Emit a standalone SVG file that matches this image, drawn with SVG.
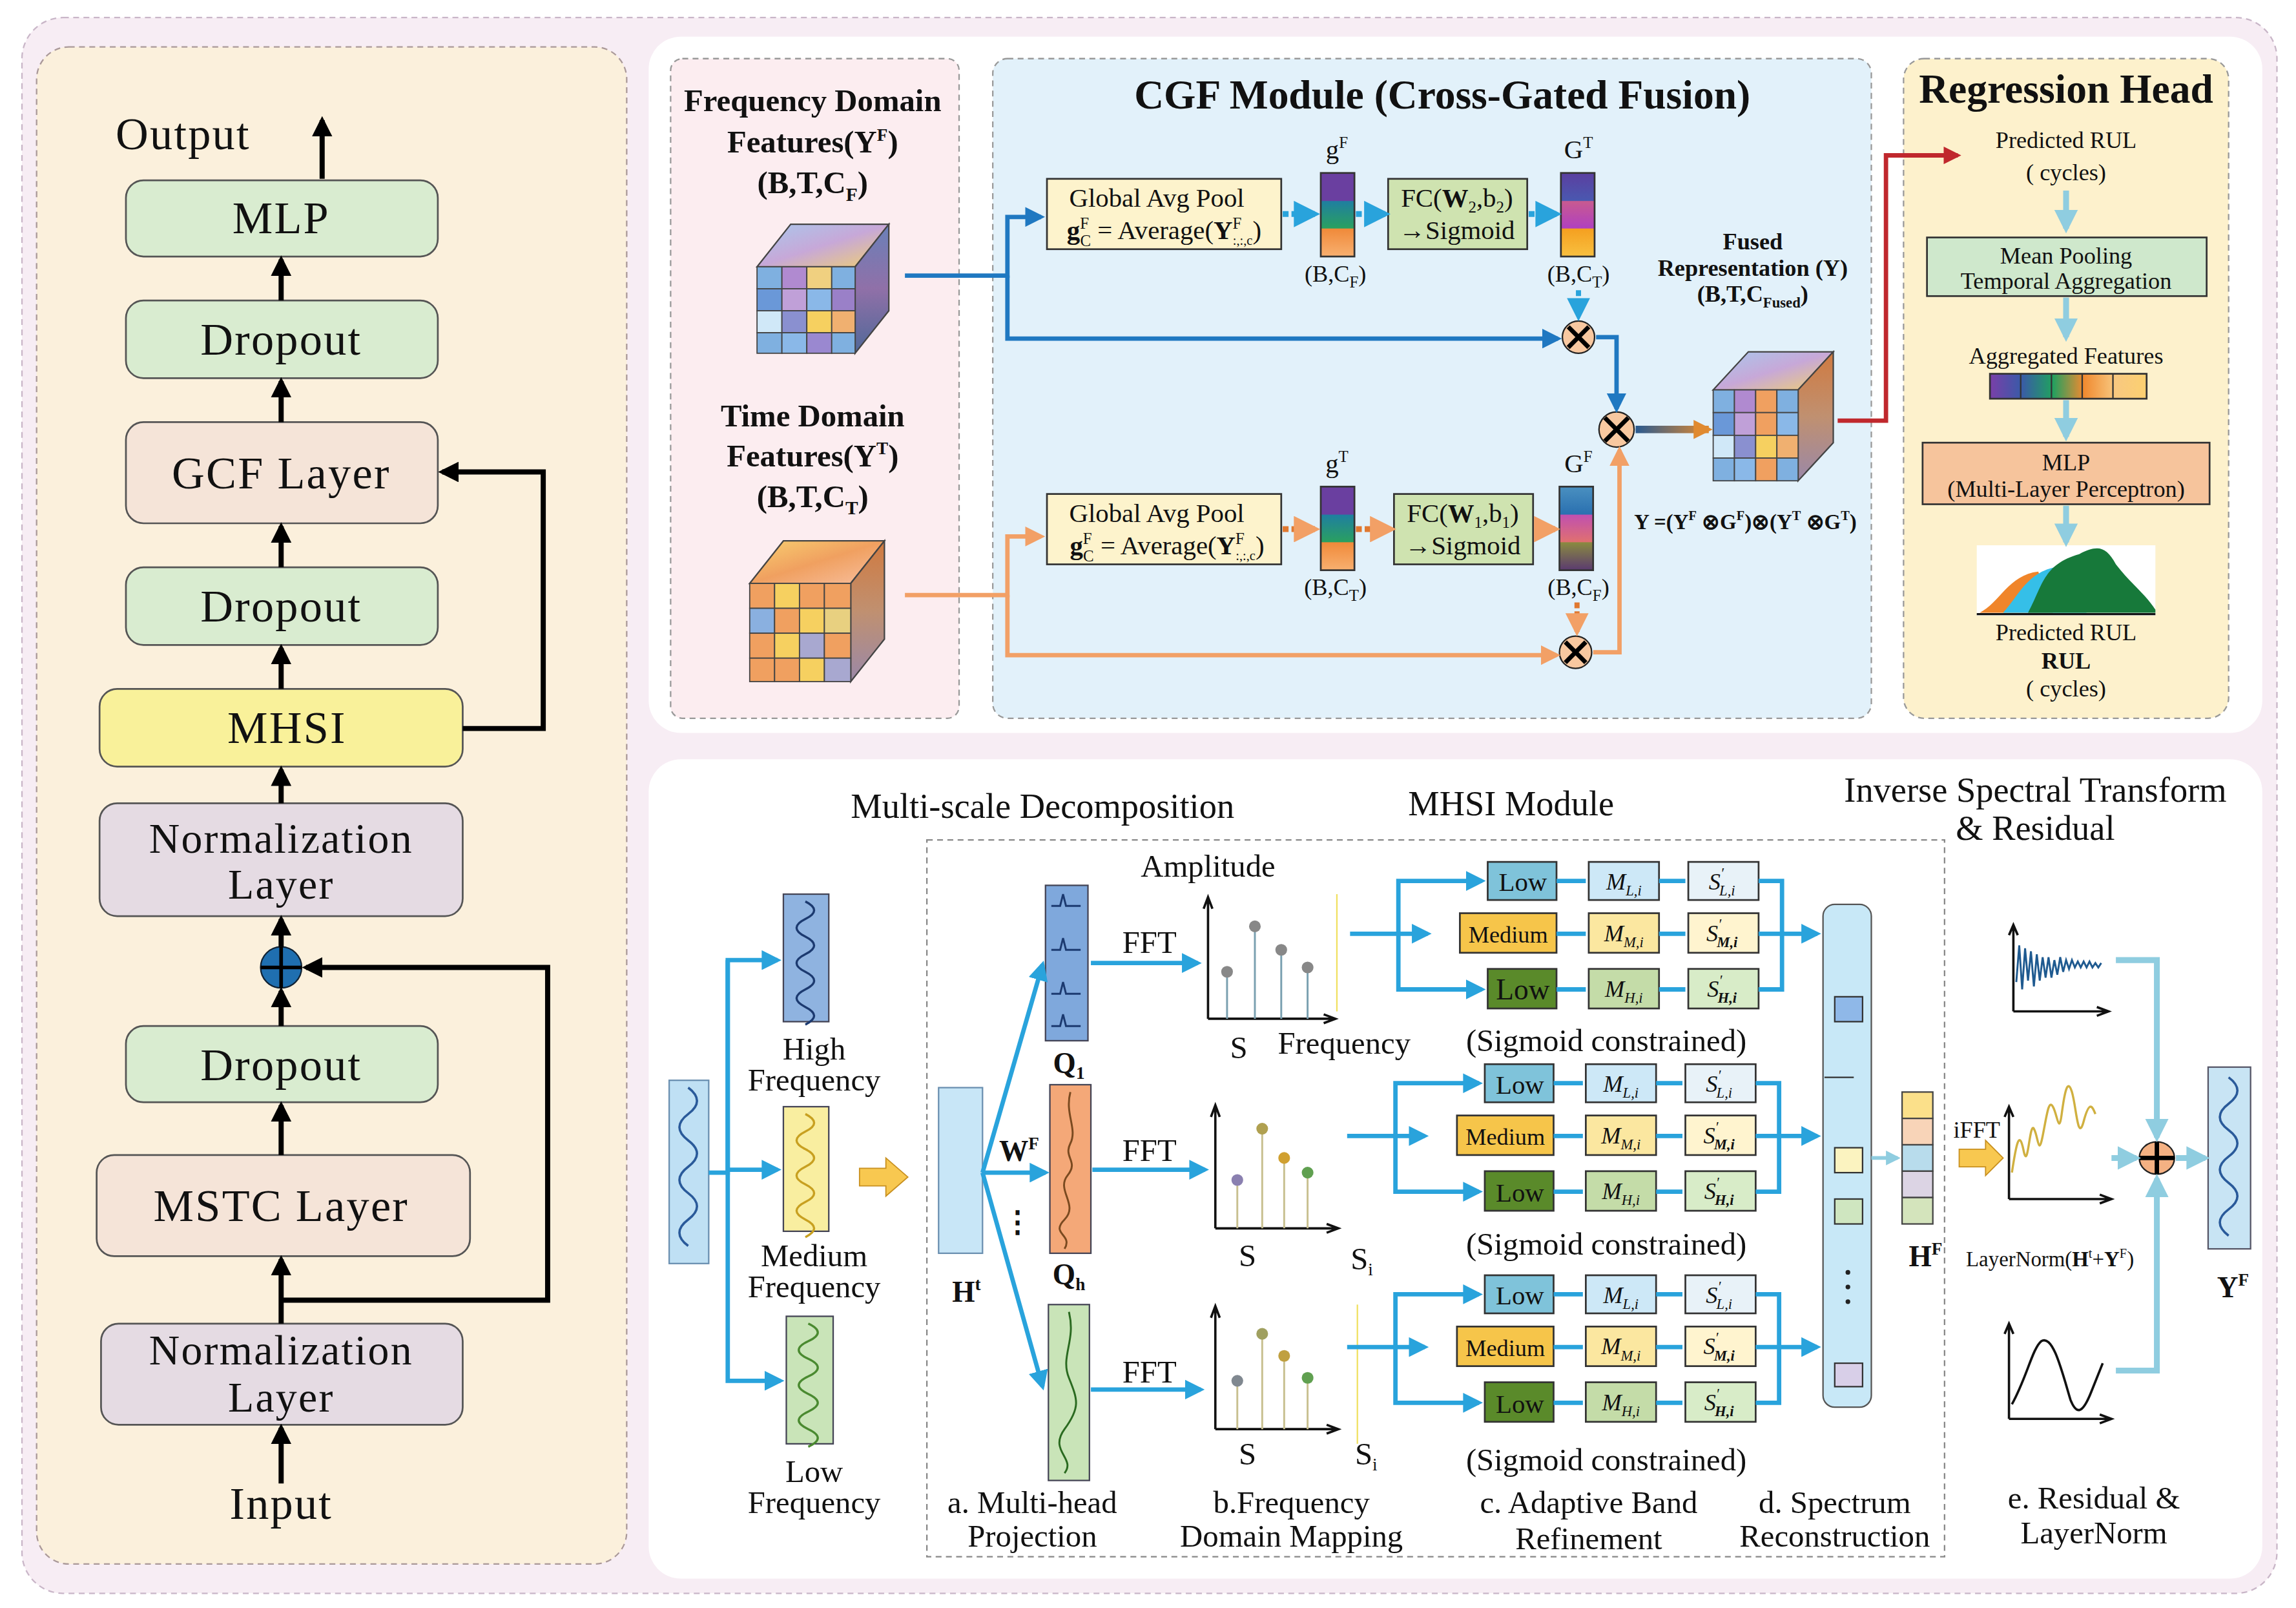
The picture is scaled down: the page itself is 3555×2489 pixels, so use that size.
<svg xmlns="http://www.w3.org/2000/svg" width="3555" height="2489" viewBox="0 0 3555 2489">
<style>
text{font-family:"Liberation Serif","Times New Roman",serif;fill:#111;text-anchor:middle}
.L{font-size:31px;letter-spacing:1px}
.L2{font-size:29px;letter-spacing:1px}
.b{font-weight:bold}
.t16{font-size:16px}.t18{font-size:18px}.t20{font-size:20px}.t21{font-size:21.5px}.t22{font-size:24px}.t14{font-size:14.5px}
.node{stroke:#555;stroke-width:1.2}
.bk{stroke:#000;stroke-width:3.5;fill:none}
.bl{stroke:#29a3dc;stroke-width:3;fill:none}
.blu{stroke:#1f78c1;stroke-width:3;fill:none}
.or{stroke:#f2a066;stroke-width:3;fill:none}
.lb{stroke:#8fcde0;stroke-width:4;fill:none}
.ax{stroke:#111;stroke-width:1.6;fill:none}
.box{stroke:#333;stroke-width:1.2}
.dash{fill:none;stroke:#888;stroke-width:1;stroke-dasharray:4 3}
</style>
<defs>
<marker id="mk" viewBox="0 0 10 10" refX="8" refY="5" markerWidth="4" markerHeight="4" orient="auto"><path d="M0,0L10,5L0,10z" fill="#000"/></marker>
<marker id="mb" viewBox="0 0 10 10" refX="8" refY="5" markerWidth="4.5" markerHeight="4.5" orient="auto"><path d="M0,0L10,5L0,10z" fill="#29a3dc"/></marker>
<marker id="mbd" viewBox="0 0 10 10" refX="8" refY="5" markerWidth="4.5" markerHeight="4.5" orient="auto"><path d="M0,0L10,5L0,10z" fill="#1f78c1"/></marker>
<marker id="mo" viewBox="0 0 10 10" refX="8" refY="5" markerWidth="4.5" markerHeight="4.5" orient="auto"><path d="M0,0L10,5L0,10z" fill="#f2a066"/></marker>
<marker id="mo2" viewBox="0 0 10 10" refX="8" refY="5" markerWidth="2.6" markerHeight="3" orient="auto"><path d="M0,0L10,5L0,10z" fill="#e08a30"/></marker>
<marker id="mr" viewBox="0 0 10 10" refX="8" refY="5" markerWidth="5" markerHeight="4" orient="auto"><path d="M0,0L10,5L0,10z" fill="#c0282d"/></marker>
<marker id="ml" viewBox="0 0 10 10" refX="8" refY="5" markerWidth="4" markerHeight="4" orient="auto"><path d="M0,0L10,5L0,10z" fill="#8fcde0"/></marker>
<linearGradient id="gF" x1="0" y1="0" x2="0" y2="1"><stop offset="0" stop-color="#6a3fa0"/><stop offset="0.33" stop-color="#6a3fa0"/><stop offset="0.34" stop-color="#1f7fa0"/><stop offset="0.66" stop-color="#2aa060"/><stop offset="0.67" stop-color="#f08a3a"/><stop offset="1" stop-color="#f8b070"/></linearGradient>
<linearGradient id="gT" x1="0" y1="0" x2="0" y2="1"><stop offset="0" stop-color="#5b3fa0"/><stop offset="0.33" stop-color="#4a58b0"/><stop offset="0.34" stop-color="#c85a90"/><stop offset="0.66" stop-color="#b040c0"/><stop offset="0.67" stop-color="#f5a020"/><stop offset="1" stop-color="#f8c040"/></linearGradient>
<linearGradient id="gG" x1="0" y1="0" x2="0" y2="1"><stop offset="0" stop-color="#4a90c0"/><stop offset="0.33" stop-color="#2a70b0"/><stop offset="0.34" stop-color="#c050b0"/><stop offset="0.66" stop-color="#e07070"/><stop offset="0.67" stop-color="#8a8a40"/><stop offset="1" stop-color="#5a3a70"/></linearGradient>
<linearGradient id="agg" x1="0" y1="0" x2="1" y2="0"><stop offset="0" stop-color="#7a3fa8"/><stop offset="0.2" stop-color="#3a5aa8"/><stop offset="0.4" stop-color="#20a060"/><stop offset="0.6" stop-color="#f08a30"/><stop offset="0.8" stop-color="#f8c880"/><stop offset="1" stop-color="#fcd070"/></linearGradient>
<linearGradient id="fus" gradientUnits="userSpaceOnUse" x1="1117" y1="0" x2="1167" y2="0"><stop offset="0" stop-color="#2a5a90"/><stop offset="1" stop-color="#e08a30"/></linearGradient>
<linearGradient id="cubeTopB" x1="0" y1="0" x2="1" y2="1"><stop offset="0" stop-color="#a9c8ec"/><stop offset="0.5" stop-color="#c7a8d8"/><stop offset="1" stop-color="#f0d070"/></linearGradient>
<linearGradient id="cubeSideB" x1="0" y1="0" x2="0" y2="1"><stop offset="0" stop-color="#6a80b8"/><stop offset="0.5" stop-color="#9070a8"/><stop offset="1" stop-color="#506898"/></linearGradient>
<linearGradient id="cubeTopO" x1="0" y1="0" x2="1" y2="1"><stop offset="0" stop-color="#f8d070"/><stop offset="0.5" stop-color="#f0a060"/><stop offset="1" stop-color="#f8c0a0"/></linearGradient>
<linearGradient id="cubeSideO" x1="0" y1="0" x2="0" y2="1"><stop offset="0" stop-color="#d07a40"/><stop offset="0.5" stop-color="#c09070"/><stop offset="1" stop-color="#9a88a8"/></linearGradient>
</defs>
<g transform="scale(2.2672,2.2689)">
<rect x="15" y="12" width="1540" height="1075" rx="28" fill="#f7edf4" stroke="#c9b6c8" stroke-dasharray="4 3"/>
<rect x="25" y="32" width="403" height="1035" rx="22" fill="#fbf0dc" stroke="#a99" stroke-dasharray="4 3"/>
<rect x="443" y="25" width="1102" height="475" rx="22" fill="#fff"/>
<rect x="443" y="518" width="1102" height="559" rx="22" fill="#fff"/>
<rect x="458" y="40" width="197" height="450" rx="8" fill="#fcedf0" stroke="#999" stroke-dasharray="4 3"/>
<rect x="678" y="40" width="600" height="450" rx="10" fill="#e2f1fa" stroke="#999" stroke-dasharray="4 3"/>
<rect x="1300" y="40" width="222" height="450" rx="14" fill="#fdf1cc" stroke="#999" stroke-dasharray="4 3"/>
<rect x="633" y="573" width="695" height="489" class="dash"/>

<g id="output-label"><text x="125" y="102" class="L">Output</text></g>
<g id="mlp-left"><rect x="86" y="123" width="213" height="52" rx="12" fill="#d9ecd0" class="node"/><text x="192" y="159" class="L">MLP</text></g>
<g id="dropout-3"><rect x="86" y="205" width="213" height="53" rx="12" fill="#d9ecd0" class="node"/><text x="192" y="242" class="L">Dropout</text></g>
<g id="gcf-layer"><rect x="86" y="288" width="213" height="69" rx="12" fill="#f5e4d8" class="node"/><text x="192" y="333" class="L">GCF Layer</text></g>
<g id="dropout-2"><rect x="86" y="387" width="213" height="53" rx="12" fill="#d9ecd0" class="node"/><text x="192" y="424" class="L">Dropout</text></g>
<g id="mhsi-left"><rect x="68" y="470" width="248" height="53" rx="12" fill="#f9f19a" class="node"/><text x="196" y="507" class="L">MHSI</text></g>
<g id="norm-2"><rect x="68" y="548" width="248" height="77" rx="12" fill="#e5dbe3" class="node"/><text x="192" y="582" class="L2">Normalization</text><text x="192" y="613" class="L2">Layer</text></g>
<g id="add-left"><circle cx="192" cy="660" r="14" fill="#1f6fb0" stroke="#123"/><path d="M178,660H206M192,646V674" stroke="#000" stroke-width="2.5"/></g>
<g id="dropout-1"><rect x="86" y="700" width="213" height="52" rx="12" fill="#d9ecd0" class="node"/><text x="192" y="737" class="L">Dropout</text></g>
<g id="mstc-layer"><rect x="66" y="788" width="255" height="69" rx="12" fill="#f5e4d8" class="node"/><text x="192" y="833" class="L">MSTC Layer</text></g>
<g id="norm-1"><rect x="69" y="903" width="247" height="69" rx="12" fill="#e5dbe3" class="node"/><text x="192" y="931" class="L2">Normalization</text><text x="192" y="963" class="L2">Layer</text></g>
<g id="input-label"><text x="192" y="1036" class="L">Input</text></g>
<g id="left-connectors">
<path class="bk" d="M220,122V82" marker-end="url(#mk)"/>
<path class="bk" d="M192,205V177" marker-end="url(#mk)"/>
<path class="bk" d="M192,288V260" marker-end="url(#mk)"/>
<path class="bk" d="M192,387V359" marker-end="url(#mk)"/>
<path class="bk" d="M192,470V442" marker-end="url(#mk)"/>
<path class="bk" d="M192,548V525" marker-end="url(#mk)"/>
<path class="bk" d="M192,646V627" marker-end="url(#mk)"/>
<path class="bk" d="M192,700V676" marker-end="url(#mk)"/>
<path class="bk" d="M192,788V754" marker-end="url(#mk)"/>
<path class="bk" d="M192,903V859" marker-end="url(#mk)"/>
<path class="bk" d="M192,1012V974" marker-end="url(#mk)"/>
<path class="bk" d="M316,497H371V322H302" marker-end="url(#mk)"/>
<path class="bk" d="M192,887H374V660H209" marker-end="url(#mk)"/>
</g>

<g id="freq-features">
<text x="555" y="76" class="t21 b">Frequency Domain</text>
<text x="555" y="104" class="t21 b">Features(Y<tspan dy="-8" font-size="12">F</tspan><tspan dy="8">)</tspan></text>
<text x="555" y="132" class="t21 b">(B,T,C<tspan dy="5" font-size="13">F</tspan><tspan dy="-5">)</tspan></text>
<polygon points="517,182 540,153 607,153 584,182" fill="url(#cubeTopB)" stroke="#444"/>
<polygon points="584,182 607,153 607,212 584,241" fill="url(#cubeSideB)" stroke="#444"/>
<g stroke="#444" stroke-width="0.8">
<rect x="517" y="182" width="17" height="15" fill="#7fb0e0"/><rect x="534" y="182" width="17" height="15" fill="#b08ad0"/><rect x="551" y="182" width="17" height="15" fill="#f0d080"/><rect x="568" y="182" width="16" height="15" fill="#7fb0e0"/>
<rect x="517" y="197" width="17" height="15" fill="#6a98d8"/><rect x="534" y="197" width="17" height="15" fill="#c0a0d8"/><rect x="551" y="197" width="17" height="15" fill="#8ab8e8"/><rect x="568" y="197" width="16" height="15" fill="#9a80c8"/>
<rect x="517" y="212" width="17" height="15" fill="#d0e8f8"/><rect x="534" y="212" width="17" height="15" fill="#8a90d0"/><rect x="551" y="212" width="17" height="15" fill="#f6d060"/><rect x="568" y="212" width="16" height="15" fill="#f0b070"/>
<rect x="517" y="227" width="17" height="14" fill="#7fb0e0"/><rect x="534" y="227" width="17" height="14" fill="#8ab8e8"/><rect x="551" y="227" width="17" height="14" fill="#9a88d0"/><rect x="568" y="227" width="16" height="14" fill="#7fb0e0"/>
</g></g>
<g id="time-features">
<text x="555" y="291" class="t21 b">Time Domain</text>
<text x="555" y="318" class="t21 b">Features(Y<tspan dy="-8" font-size="12">T</tspan><tspan dy="8">)</tspan></text>
<text x="555" y="346" class="t21 b">(B,T,C<tspan dy="5" font-size="13">T</tspan><tspan dy="-5">)</tspan></text>
<polygon points="512,398 535,369 604,369 581,398" fill="url(#cubeTopO)" stroke="#444"/>
<polygon points="581,398 604,369 604,436 581,465" fill="url(#cubeSideO)" stroke="#444"/>
<g stroke="#444" stroke-width="0.8">
<rect x="512" y="398" width="17" height="17" fill="#f0a060"/><rect x="529" y="398" width="17" height="17" fill="#f6d060"/><rect x="546" y="398" width="17" height="17" fill="#f0a060"/><rect x="563" y="398" width="18" height="17" fill="#f0a060"/>
<rect x="512" y="415" width="17" height="17" fill="#8ab0e0"/><rect x="529" y="415" width="17" height="17" fill="#f0a060"/><rect x="546" y="415" width="17" height="17" fill="#f6d060"/><rect x="563" y="415" width="18" height="17" fill="#e8d080"/>
<rect x="512" y="432" width="17" height="17" fill="#f0a060"/><rect x="529" y="432" width="17" height="17" fill="#f6d060"/><rect x="546" y="432" width="17" height="17" fill="#a8a8d0"/><rect x="563" y="432" width="18" height="17" fill="#f0a060"/>
<rect x="512" y="449" width="17" height="16" fill="#f0a060"/><rect x="529" y="449" width="17" height="16" fill="#f0a060"/><rect x="546" y="449" width="17" height="16" fill="#f6d060"/><rect x="563" y="449" width="18" height="16" fill="#a8a8d0"/>
</g></g>

<g id="cgf-title"><text x="985" y="74" font-size="28" class="b">CGF Module (Cross-Gated Fusion)</text></g>
<g id="gap-top"><rect x="715" y="122" width="160" height="48" fill="#fdf3cc" class="box"/>
<text x="790" y="141" class="t18">Global Avg Pool</text>
<text x="795" y="163" class="t18"><tspan class="b">g</tspan><tspan dy="-7" font-size="11">F</tspan><tspan dx="-6" dy="12" font-size="11">C</tspan><tspan dy="-5"> = Average(</tspan><tspan class="b">Y</tspan><tspan dy="-7" font-size="11">F</tspan><tspan dx="-6" dy="11" font-size="9">:,:,c</tspan><tspan dy="-4">)</tspan></text></g>
<g id="gF-vec"><rect x="902" y="118" width="23" height="57" fill="url(#gF)" class="box"/><text x="913" y="108" class="t18">g<tspan dy="-7" font-size="11">F</tspan></text><text x="912" y="192" class="t16">(B,C<tspan dy="4" font-size="11">F</tspan><tspan dy="-4">)</tspan></text></g>
<g id="fc-top"><rect x="948" y="122" width="95" height="48" fill="#cfe3b0" class="box"/><text x="995" y="141" class="t18">FC(<tspan class="b">W</tspan><tspan dy="4" font-size="11">2</tspan><tspan dy="-4">,b</tspan><tspan dy="4" font-size="11">2</tspan><tspan dy="-4">)</tspan></text><text x="995" y="163" class="t18">→Sigmoid</text></g>
<g id="GT-vec"><rect x="1066" y="118" width="23" height="57" fill="url(#gT)" class="box"/><text x="1078" y="108" class="t18">G<tspan dy="-7" font-size="11">T</tspan></text><text x="1078" y="192" class="t16">(B,C<tspan dy="4" font-size="11">T</tspan><tspan dy="-4">)</tspan></text></g>
<g id="gap-bot"><rect x="715" y="337" width="160" height="48" fill="#fdf3cc" class="box"/>
<text x="790" y="356" class="t18">Global Avg Pool</text>
<text x="797" y="378" class="t18"><tspan class="b">g</tspan><tspan dy="-7" font-size="11">F</tspan><tspan dx="-6" dy="12" font-size="11">C</tspan><tspan dy="-5"> = Average(</tspan><tspan class="b">Y</tspan><tspan dy="-7" font-size="11">F</tspan><tspan dx="-6" dy="11" font-size="9">:,:,c</tspan><tspan dy="-4">)</tspan></text></g>
<g id="gT-vec"><rect x="902" y="332" width="23" height="57" fill="url(#gF)" class="box"/><text x="913" y="322" class="t18">g<tspan dy="-7" font-size="11">T</tspan></text><text x="912" y="406" class="t16">(B,C<tspan dy="4" font-size="11">T</tspan><tspan dy="-4">)</tspan></text></g>
<g id="fc-bot"><rect x="952" y="337" width="95" height="48" fill="#cfe3b0" class="box"/><text x="999" y="356" class="t18">FC(<tspan class="b">W</tspan><tspan dy="4" font-size="11">1</tspan><tspan dy="-4">,b</tspan><tspan dy="4" font-size="11">1</tspan><tspan dy="-4">)</tspan></text><text x="999" y="378" class="t18">→Sigmoid</text></g>
<g id="GF-vec"><rect x="1065" y="332" width="23" height="57" fill="url(#gG)" class="box"/><text x="1078" y="322" class="t18">G<tspan dy="-7" font-size="11">F</tspan></text><text x="1078" y="406" class="t16">(B,C<tspan dy="4" font-size="11">F</tspan><tspan dy="-4">)</tspan></text></g>
<g id="mul-top"><circle cx="1078" cy="230" r="11" fill="#f8c8a0" stroke="#222"/><path d="M1071,223L1085,237M1085,223L1071,237" stroke="#000" stroke-width="3"/></g>
<g id="mul-bot"><circle cx="1076" cy="445" r="11" fill="#f8c8a0" stroke="#222"/><path d="M1069,438L1083,452M1083,438L1069,452" stroke="#000" stroke-width="3"/></g>
<g id="mul-fuse"><circle cx="1104" cy="293" r="12" fill="#f8c8a0" stroke="#222"/><path d="M1096,285L1112,301M1112,285L1096,301" stroke="#000" stroke-width="3"/></g>
<g id="fused">
<text x="1197" y="170" class="t16 b">Fused</text><text x="1197" y="188" class="t16 b">Representation (Y)</text><text x="1197" y="206" class="t16 b">(B,T,C<tspan dy="4" font-size="10">Fused</tspan><tspan dy="-4">)</tspan></text>
<polygon points="1170,266 1194,240 1252,240 1228,266" fill="url(#cubeTopB)" stroke="#444"/>
<polygon points="1228,266 1252,240 1252,302 1228,328" fill="url(#cubeSideO)" stroke="#444"/>
<g stroke="#444" stroke-width="0.8">
<rect x="1170" y="266" width="14.5" height="15.5" fill="#7fb0e0"/><rect x="1184.5" y="266" width="14.5" height="15.5" fill="#b08ad0"/><rect x="1199" y="266" width="14.5" height="15.5" fill="#f0a060"/><rect x="1213.5" y="266" width="14.5" height="15.5" fill="#7fb0e0"/>
<rect x="1170" y="281.5" width="14.5" height="15.5" fill="#6a98d8"/><rect x="1184.5" y="281.5" width="14.5" height="15.5" fill="#c0a0d8"/><rect x="1199" y="281.5" width="14.5" height="15.5" fill="#f0a060"/><rect x="1213.5" y="281.5" width="14.5" height="15.5" fill="#8ab8e8"/>
<rect x="1170" y="297" width="14.5" height="15.5" fill="#d0e8f8"/><rect x="1184.5" y="297" width="14.5" height="15.5" fill="#8a90d0"/><rect x="1199" y="297" width="14.5" height="15.5" fill="#f6d060"/><rect x="1213.5" y="297" width="14.5" height="15.5" fill="#f0b070"/>
<rect x="1170" y="312.5" width="14.5" height="15.5" fill="#7fb0e0"/><rect x="1184.5" y="312.5" width="14.5" height="15.5" fill="#8ab8e8"/><rect x="1199" y="312.5" width="14.5" height="15.5" fill="#f0a060"/><rect x="1213.5" y="312.5" width="14.5" height="15.5" fill="#7fb0e0"/>
</g>
<text x="1192" y="361" font-size="14.5" class="b">Y =(Y<tspan dy="-6" font-size="9">F</tspan><tspan dy="6"> ⊗G</tspan><tspan dy="-6" font-size="9">F</tspan><tspan dy="6">)⊗(Y</tspan><tspan dy="-6" font-size="9">T</tspan><tspan dy="6"> ⊗G</tspan><tspan dy="-6" font-size="9">T</tspan><tspan dy="6">)</tspan></text>
</g>

<g id="reg-title"><text x="1411" y="70" font-size="28" class="b">Regression Head</text></g>
<g id="pred-top"><text x="1411" y="101" class="t16">Predicted RUL</text><text x="1411" y="123" class="t16">( cycles)</text></g>
<g id="mean-pool"><rect x="1316" y="162" width="191" height="40" fill="#cfe8cc" class="box"/><text x="1411" y="180" class="t16">Mean Pooling</text><text x="1411" y="197" class="t16">Temporal Aggregation</text></g>
<g id="agg-feat"><text x="1411" y="248" class="t16">Aggregated Features</text><rect x="1359" y="255" width="107" height="17" fill="url(#agg)" class="box"/><path d="M1380,255V272M1401,255V272M1422,255V272M1443,255V272" stroke="#333"/></g>
<g id="mlp-head"><rect x="1313" y="302" width="196" height="42" fill="#f6c49c" class="box"/><text x="1411" y="321" class="t16">MLP</text><text x="1411" y="339" class="t16">(Multi-Layer Perceptron)</text></g>
<g id="rul-chart"><rect x="1350" y="372" width="122" height="48" fill="#fff"/>
<path d="M1352,418C1365,412 1372,392 1392,390L1402,418Z" fill="#f0852a"/>
<path d="M1368,418C1380,405 1385,388 1410,386C1418,386 1420,410 1425,418Z" fill="#35bfe8"/>
<path d="M1385,418C1395,400 1395,385 1420,378C1432,372 1438,372 1445,385C1455,398 1465,405 1472,416L1472,418Z" fill="#17793a"/>
<path d="M1350,419H1472" stroke="#111" stroke-width="1.5"/>
<text x="1411" y="437" class="t16">Predicted RUL</text><text x="1411" y="456" class="t16 b">RUL</text><text x="1411" y="475" class="t16">( cycles)</text></g>

<g id="top-connectors">
<path class="blu" d="M618,188H688V148H711" marker-end="url(#mbd)"/>
<path class="blu" d="M688,188V231H1064" marker-end="url(#mbd)"/>
<path class="blu" d="M1090,230H1104V279" marker-end="url(#mbd)"/>
<path class="or" d="M618,406H688V366H711" marker-end="url(#mo)"/>
<path class="or" d="M688,406V447H1063" marker-end="url(#mo)"/>
<path class="or" d="M1088,445H1106V307" marker-end="url(#mo)"/>
<path d="M876,146H898" stroke="#29a3dc" stroke-width="4" stroke-dasharray="4 2" marker-end="url(#mb)"/>
<path d="M926,146H946" stroke="#29a3dc" stroke-width="4" stroke-dasharray="4 2" marker-end="url(#mb)"/>
<path d="M1044,146H1063" stroke="#29a3dc" stroke-width="4" stroke-dasharray="4 2" marker-end="url(#mb)"/>
<path d="M876,361H898" stroke="#e07830" stroke-width="4" stroke-dasharray="4 2" marker-end="url(#mo)"/>
<path d="M926,361H950" stroke="#e07830" stroke-width="4" stroke-dasharray="4 2" marker-end="url(#mo)"/>
<path d="M1048,361H1062" stroke="#e07830" stroke-width="4" stroke-dasharray="4 2" marker-end="url(#mo)"/>
<path d="M1078,198V216" stroke="#29a3dc" stroke-width="3.5" stroke-dasharray="4 2" marker-end="url(#mb)"/>
<path d="M1077,411V431" stroke="#e07830" stroke-width="3.5" stroke-dasharray="4 2" marker-end="url(#mo)"/>
<path d="M1117,293H1167" stroke="url(#fus)" stroke-width="5" marker-end="url(#mo2)"/>
<path d="M1255,287H1288V106H1337" stroke="#c0282d" stroke-width="3" fill="none" marker-end="url(#mr)"/>
<path class="lb" d="M1411,130V156" marker-end="url(#ml)"/>
<path class="lb" d="M1411,203V230" marker-end="url(#ml)"/>
<path class="lb" d="M1411,273V298" marker-end="url(#ml)"/>
<path class="lb" d="M1411,345V370" marker-end="url(#ml)"/>
</g>

<g id="bottom-titles">
<text x="712" y="558" class="t22">Multi-scale Decomposition</text>
<text x="1032" y="556" class="t22">MHSI Module</text>
<text x="1390" y="547" class="t22">Inverse Spectral Transform</text>
<text x="1390" y="573" class="t22">&amp; Residual</text>
</g>
<g id="input-signal"><rect x="457" y="737" width="27" height="125" fill="#bfe0f4" stroke="#6a8fb0"/><path d="M470,742q12,9 0,18t0,18t0,18t0,18t0,18t0,18" stroke="#2a5a9a" stroke-width="1.6" fill="none"/></g>
<g id="high-freq"><rect x="535" y="610" width="31" height="87" fill="#8fb3e0" stroke="#445"/><path d="M550,615q12,6 0,12t0,12t0,12t0,12t0,12t0,12t0,12" stroke="#1c3a70" stroke-width="1.5" fill="none"/><text x="556" y="723" class="t21">High</text><text x="556" y="744" class="t21">Frequency</text></g>
<g id="med-freq"><rect x="535" y="755" width="31" height="85" fill="#f9eea0" stroke="#445"/><path d="M550,760q12,6 0,12t0,12t0,12t0,12t0,12t0,12t0,12" stroke="#c8a020" stroke-width="1.5" fill="none"/><text x="556" y="864" class="t21">Medium</text><text x="556" y="885" class="t21">Frequency</text></g>
<g id="low-freq"><rect x="537" y="898" width="32" height="87" fill="#c9e4b8" stroke="#445"/><path d="M552,903q13,6 0,12t0,12t0,12t0,12t0,12t0,12t0,12" stroke="#4a8a30" stroke-width="1.5" fill="none"/><text x="556" y="1011" class="t21">Low</text><text x="556" y="1032" class="t21">Frequency</text></g>
<g id="yellow-arrow1"><path d="M587,797H605V790L620,803L605,816V809H587Z" fill="#f8c850" stroke="#c89020" stroke-width="0.8"/></g>
<g id="Ht"><rect x="641" y="742" width="30" height="113" fill="#c8e6f7" stroke="#6a8fb0"/><text x="660" y="888" class="t20 b">H<tspan dy="-8" font-size="12">t</tspan></text></g>
<g id="Q1"><rect x="714" y="604" width="29" height="106" fill="#7fa8dc" stroke="#445"/><path d="M718,618h6l2,-8l2,8h10M718,648h6l2,-8l2,8h10M718,678h6l2,-8l2,8h10M718,700h6l2,-8l2,8h10" stroke="#1c3a70" stroke-width="1.3" fill="none"/><text x="730" y="732" class="t20 b">Q<tspan dy="4" font-size="12">1</tspan></text></g>
<g id="Qm"><rect x="717" y="740" width="28" height="115" fill="#f4a878" stroke="#445"/><path d="M731,745c-4,15 5,25 0,35s6,12 -2,22s8,20 -2,30s6,10 0,20" stroke="#7a4a20" stroke-width="1.3" fill="none"/><text x="730" y="876" class="t20 b">Q<tspan dy="4" font-size="12">h</tspan></text></g>
<g id="Qh"><rect x="716" y="890" width="28" height="120" fill="#c9e4b8" stroke="#445"/><path d="M730,895c5,20 -6,30 0,45s8,20 -3,35s8,20 0,30" stroke="#2a6a20" stroke-width="1.3" fill="none"/></g>
<g id="WF-label"><text x="696" y="792" class="t20 b">W<tspan dy="-8" font-size="12">F</tspan></text><text x="695" y="840" class="t20 b">⋮</text></g>
<g id="charts">
<text x="825" y="598" class="t21">Amplitude</text>
<path class="ax" d="M825,695V614M822,620L825,612L828,620M825,695H910M904,692L912,695L904,698"/>
<path d="M838,695V663M857,695V632M875,695V648M893,695V660" stroke="#7aa0b0" stroke-width="1.3"/>
<circle cx="838" cy="663" r="4" fill="#888"/><circle cx="857" cy="632" r="4" fill="#888"/><circle cx="875" cy="648" r="4" fill="#888"/><circle cx="893" cy="660" r="4" fill="#888"/>
<path d="M913,610V690" stroke="#f0e060" stroke-width="1"/>
<text x="846" y="722" class="t21">S</text><text x="918" y="719" class="t21">Frequency</text>
<path class="ax" d="M830,838V756M827,762L830,754L833,762M830,838H912M906,835L914,838L906,841"/>
<path d="M845,838V805M862,838V770M877,838V790M893,838V800" stroke="#c8c090" stroke-width="1.3"/>
<circle cx="845" cy="805" r="4" fill="#8a80b0"/><circle cx="862" cy="770" r="4" fill="#b0a050"/><circle cx="877" cy="790" r="4" fill="#d0a030"/><circle cx="893" cy="800" r="4" fill="#60a050"/>
<text x="852" y="864" class="t21">S</text><text x="930" y="866" class="t21">S<tspan dy="4" font-size="12">i</tspan></text>
<path class="ax" d="M830,975V893M827,899L830,891L833,899M830,975H912M906,972L914,975L906,978"/>
<path d="M845,975V942M862,975V910M877,975V925M893,975V940" stroke="#c8c090" stroke-width="1.3"/>
<circle cx="845" cy="942" r="4" fill="#808890"/><circle cx="862" cy="910" r="4" fill="#a0a060"/><circle cx="877" cy="925" r="4" fill="#c0a040"/><circle cx="893" cy="940" r="4" fill="#60a050"/>
<path d="M927,890V985" stroke="#f0e060" stroke-width="1"/>
<text x="852" y="999" class="t21">S</text><text x="933" y="999" class="t21">S<tspan dy="4" font-size="12">i</tspan></text>
</g>
<g id="band-1">
<rect x="1016" y="588" width="47" height="26" fill="#7fc3da" class="box"/><text x="1040" y="608" class="t18">Low</text>
<rect x="997" y="623" width="66" height="27" fill="#f6c54a" class="box"/><text x="1030" y="643" class="t16">Medium</text>
<rect x="1016" y="661" width="47" height="27" fill="#5a8a2a" class="box"/><text x="1040" y="682" class="t20">Low</text>
<rect x="1085" y="588" width="48" height="26" fill="#cde8f7" class="box"/><text x="1109" y="607" class="t16" font-style="italic">M<tspan dy="4" font-size="10">L,i</tspan></text>
<rect x="1085" y="623" width="48" height="27" fill="#fbe7a0" class="box"/><text x="1109" y="642" class="t16" font-style="italic">M<tspan dy="4" font-size="10">M,i</tspan></text>
<rect x="1085" y="661" width="48" height="27" fill="#c4dca8" class="box"/><text x="1109" y="680" class="t16" font-style="italic">M<tspan dy="4" font-size="10">H,i</tspan></text>
<rect x="1153" y="588" width="48" height="26" fill="#e8f2f8" class="box"/><text x="1176" y="607" class="t16" font-style="italic">S<tspan dy="-8" font-size="10">′</tspan><tspan dx="-3" dy="12" font-size="10">L,i</tspan></text>
<rect x="1153" y="623" width="48" height="27" fill="#fff4cf" class="box"/><text x="1176" y="642" class="t16" font-style="italic">S<tspan dy="-8" font-size="10">′</tspan><tspan dx="-3" dy="12" font-size="10" font-weight="bold">M,i</tspan></text>
<rect x="1153" y="661" width="48" height="27" fill="#d8ecc8" class="box"/><text x="1176" y="680" class="t16" font-style="italic">S<tspan dy="-8" font-size="10">′</tspan><tspan dx="-3" dy="12" font-size="10" font-weight="bold">H,i</tspan></text>
<text x="1097" y="717" class="t21">(Sigmoid constrained)</text>
</g>
<g id="band-2" transform="translate(-2,138)">
<rect x="1016" y="588" width="47" height="26" fill="#7fc3da" class="box"/><text x="1040" y="608" class="t18">Low</text>
<rect x="997" y="623" width="66" height="27" fill="#f6c54a" class="box"/><text x="1030" y="643" class="t16">Medium</text>
<rect x="1016" y="661" width="47" height="27" fill="#5a8a2a" class="box"/><text x="1040" y="682" class="t18">Low</text>
<rect x="1085" y="588" width="48" height="26" fill="#cde8f7" class="box"/><text x="1109" y="607" class="t16" font-style="italic">M<tspan dy="4" font-size="10">L,i</tspan></text>
<rect x="1085" y="623" width="48" height="27" fill="#fbe7a0" class="box"/><text x="1109" y="642" class="t16" font-style="italic">M<tspan dy="4" font-size="10">M,i</tspan></text>
<rect x="1085" y="661" width="48" height="27" fill="#c4dca8" class="box"/><text x="1109" y="680" class="t16" font-style="italic">M<tspan dy="4" font-size="10">H,i</tspan></text>
<rect x="1153" y="588" width="48" height="26" fill="#e8f2f8" class="box"/><text x="1176" y="607" class="t16" font-style="italic">S<tspan dy="-8" font-size="10">′</tspan><tspan dx="-3" dy="12" font-size="10">L,i</tspan></text>
<rect x="1153" y="623" width="48" height="27" fill="#fff4cf" class="box"/><text x="1176" y="642" class="t16" font-style="italic">S<tspan dy="-8" font-size="10">′</tspan><tspan dx="-3" dy="12" font-size="10" font-weight="bold">M,i</tspan></text>
<rect x="1153" y="661" width="48" height="27" fill="#d8ecc8" class="box"/><text x="1176" y="680" class="t16" font-style="italic">S<tspan dy="-8" font-size="10">′</tspan><tspan dx="-3" dy="12" font-size="10" font-weight="bold">H,i</tspan></text>
<text x="1099" y="718" class="t21">(Sigmoid constrained)</text>
</g>
<g id="band-3" transform="translate(-2,282)">
<rect x="1016" y="588" width="47" height="26" fill="#7fc3da" class="box"/><text x="1040" y="608" class="t18">Low</text>
<rect x="997" y="623" width="66" height="27" fill="#f6c54a" class="box"/><text x="1030" y="643" class="t16">Medium</text>
<rect x="1016" y="661" width="47" height="27" fill="#5a8a2a" class="box"/><text x="1040" y="682" class="t18">Low</text>
<rect x="1085" y="588" width="48" height="26" fill="#cde8f7" class="box"/><text x="1109" y="607" class="t16" font-style="italic">M<tspan dy="4" font-size="10">L,i</tspan></text>
<rect x="1085" y="623" width="48" height="27" fill="#fbe7a0" class="box"/><text x="1109" y="642" class="t16" font-style="italic">M<tspan dy="4" font-size="10">M,i</tspan></text>
<rect x="1085" y="661" width="48" height="27" fill="#c4dca8" class="box"/><text x="1109" y="680" class="t16" font-style="italic">M<tspan dy="4" font-size="10">H,i</tspan></text>
<rect x="1153" y="588" width="48" height="26" fill="#e8f2f8" class="box"/><text x="1176" y="607" class="t16" font-style="italic">S<tspan dy="-8" font-size="10">′</tspan><tspan dx="-3" dy="12" font-size="10">L,i</tspan></text>
<rect x="1153" y="623" width="48" height="27" fill="#fff4cf" class="box"/><text x="1176" y="642" class="t16" font-style="italic">S<tspan dy="-8" font-size="10">′</tspan><tspan dx="-3" dy="12" font-size="10" font-weight="bold">M,i</tspan></text>
<rect x="1153" y="661" width="48" height="27" fill="#d8ecc8" class="box"/><text x="1176" y="680" class="t16" font-style="italic">S<tspan dy="-8" font-size="10">′</tspan><tspan dx="-3" dy="12" font-size="10" font-weight="bold">H,i</tspan></text>
<text x="1099" y="721" class="t21">(Sigmoid constrained)</text>
</g>
<g id="spectrum-bar"><rect x="1245" y="617" width="33" height="343" rx="8" fill="#c8e8f7" stroke="#555"/>
<rect x="1253" y="680" width="19" height="17" fill="#8fb8e8" stroke="#333"/><path d="M1246,735H1266" stroke="#333"/>
<rect x="1253" y="783" width="19" height="17" fill="#fbf3c0" stroke="#333"/><rect x="1253" y="818" width="19" height="17" fill="#cfe6c0" stroke="#333"/>
<circle cx="1262" cy="868" r="1.6" fill="#222"/><circle cx="1262" cy="878" r="1.6" fill="#222"/><circle cx="1262" cy="888" r="1.6" fill="#222"/>
<rect x="1253" y="930" width="19" height="16" fill="#d8cfe8" stroke="#333"/></g>
<g id="HF"><rect x="1299" y="745" width="21" height="18" fill="#fbe08a" stroke="#444"/><rect x="1299" y="763" width="21" height="18" fill="#f8d4b8" stroke="#444"/><rect x="1299" y="781" width="21" height="18" fill="#b8dcec" stroke="#444"/><rect x="1299" y="799" width="21" height="18" fill="#dcd4e4" stroke="#444"/><rect x="1299" y="817" width="21" height="18" fill="#d4e4bc" stroke="#444"/>
<text x="1315" y="864" class="t20 b">H<tspan dy="-8" font-size="12">F</tspan></text></g>
<g id="res-charts">
<path class="ax" d="M1375,690V633M1372,638L1375,631L1378,638M1375,690H1438M1432,687L1440,690L1432,693" stroke-width="1.2"/>
<path d="M1377,670l2,-25l2,30l2,-28l2,22l2,-20l2,24l2,-22l2,18l2,-16l2,14l2,-14l2,14l2,-12l2,10l2,-12l2,10l2,-8l2,6l2,-6l2,5l2,-4l2,4l2,-4l2,4l2,-4l2,4l2,-3l2,3l2,-3" stroke="#1f5a90" stroke-width="1.3" fill="none"/>
<path class="ax" d="M1372,818V757M1369,762L1372,755L1375,762M1372,818H1440M1434,815L1442,818L1434,821" stroke-width="1.2"/>
<path d="M1374,800c3,-20 5,-30 8,-15s4,-20 7,-15s3,20 6,5s4,-25 7,-20s4,20 6,5s4,-25 7,-15s4,35 8,20s6,-10 8,-5" stroke="#d0b040" stroke-width="1.5" fill="none"/>
<text x="1350" y="776" class="t16">iFFT</text>
<path d="M1338,784H1356V778L1368,790L1356,802V796H1338Z" fill="#f8c850" stroke="#c89020" stroke-width="0.8"/>
<path class="ax" d="M1372,968V905M1369,910L1372,903L1375,910M1372,968H1440M1434,965L1442,968L1434,971" stroke-width="1.2"/>
<path d="M1374,958C1384,940 1388,920 1394,915C1402,910 1408,935 1414,955C1418,965 1422,965 1428,950L1436,930" stroke="#111" stroke-width="1.6" fill="none"/>
<text x="1400" y="864" class="t14">LayerNorm(<tspan class="b">H</tspan><tspan dy="-6" font-size="9">t</tspan><tspan dy="6">+</tspan><tspan class="b">Y</tspan><tspan dy="-6" font-size="9">F</tspan><tspan dy="6">)</tspan></text>
</g>
<g id="add-res"><ellipse cx="1473" cy="790" rx="12" ry="11" fill="#f4b183" stroke="#222"/><path d="M1461,790H1485M1473,779V801" stroke="#000" stroke-width="3"/></g>
<g id="YF"><rect x="1508" y="728" width="29" height="124" fill="#c8e4f4" stroke="#556"/><path d="M1522,735q12,9 0,18t0,18t0,18t0,18t0,18t0,18" stroke="#2a5a9a" stroke-width="1.6" fill="none"/><text x="1525" y="885" class="t20 b">Y<tspan dy="-8" font-size="12">F</tspan></text></g>
<g id="step-labels">
<text x="705" y="1032" class="t21">a. Multi-head</text><text x="705" y="1055" class="t21">Projection</text>
<text x="882" y="1032" class="t21">b.Frequency</text><text x="882" y="1055" class="t21">Domain Mapping</text>
<text x="1085" y="1032" class="t21">c. Adaptive Band</text><text x="1085" y="1057" class="t21">Refinement</text>
<text x="1253" y="1032" class="t21">d. Spectrum</text><text x="1253" y="1055" class="t21">Reconstruction</text>
<text x="1430" y="1029" class="t21">e. Residual &amp;</text><text x="1430" y="1053" class="t21">LayerNorm</text>
</g>
<g id="bottom-connectors">
<path class="bl" d="M484,800H497V655H531" marker-end="url(#mb)"/>
<path class="bl" d="M497,655V942H533" marker-end="url(#mb)"/>
<path class="bl" d="M497,798H531" marker-end="url(#mb)"/>
<path class="bl" d="M671,800L712,658" marker-end="url(#mb)"/>
<path class="bl" d="M671,800H714" marker-end="url(#mb)"/>
<path class="bl" d="M671,800L712,946" marker-end="url(#mb)"/>
<path class="bl" d="M745,657H818" marker-end="url(#mb)"/>
<path class="bl" d="M746,798H823" marker-end="url(#mb)"/>
<path class="bl" d="M745,948H820" marker-end="url(#mb)"/>
<text x="785" y="650" class="t21">FFT</text><text x="785" y="792" class="t21">FFT</text><text x="785" y="943" class="t21">FFT</text>
<g id="branch-1">
<path class="bl" d="M922,637H975" marker-end="url(#mb)"/>
<path class="bl" d="M955,637V601H1012" marker-end="url(#mb)"/>
<path class="bl" d="M955,637V675H1012" marker-end="url(#mb)"/>
<path class="bl" d="M1063,601H1083M1063,637H1083M1063,675H1083M1133,601H1151M1133,637H1151M1133,675H1151" stroke-width="2.5"/>
<path class="bl" d="M1201,601H1217V675H1201M1201,637H1241" marker-end="url(#mb)"/>
</g>
<g transform="translate(-2,138)">
<path class="bl" d="M922,637H975" marker-end="url(#mb)"/>
<path class="bl" d="M955,637V601H1012" marker-end="url(#mb)"/>
<path class="bl" d="M955,637V675H1012" marker-end="url(#mb)"/>
<path class="bl" d="M1063,601H1083M1063,637H1083M1063,675H1083M1133,601H1151M1133,637H1151M1133,675H1151" stroke-width="2.5"/>
<path class="bl" d="M1201,601H1217V675H1201M1201,637H1243" marker-end="url(#mb)"/>
</g>
<g transform="translate(-2,282)">
<path class="bl" d="M922,637H975" marker-end="url(#mb)"/>
<path class="bl" d="M955,637V601H1012" marker-end="url(#mb)"/>
<path class="bl" d="M955,637V675H1012" marker-end="url(#mb)"/>
<path class="bl" d="M1063,601H1083M1063,637H1083M1063,675H1083M1133,601H1151M1133,637H1151M1133,675H1151" stroke-width="2.5"/>
<path class="bl" d="M1201,601H1217V675H1201M1201,637H1243" marker-end="url(#mb)"/>
</g>
<path d="M1278,790H1296" stroke="#8fcde0" stroke-width="2.5" marker-end="url(#ml)"/>
<path class="lb" d="M1445,655H1473V776" stroke-width="3" marker-end="url(#ml)"/>
<path class="lb" d="M1445,935H1473V804" stroke-width="3" marker-end="url(#ml)"/>
<path class="lb" d="M1442,790H1459" stroke-width="3" marker-end="url(#ml)"/>
<path class="lb" d="M1486,790H1506" stroke-width="3" marker-end="url(#ml)"/>
</g>
</g>
</svg>
